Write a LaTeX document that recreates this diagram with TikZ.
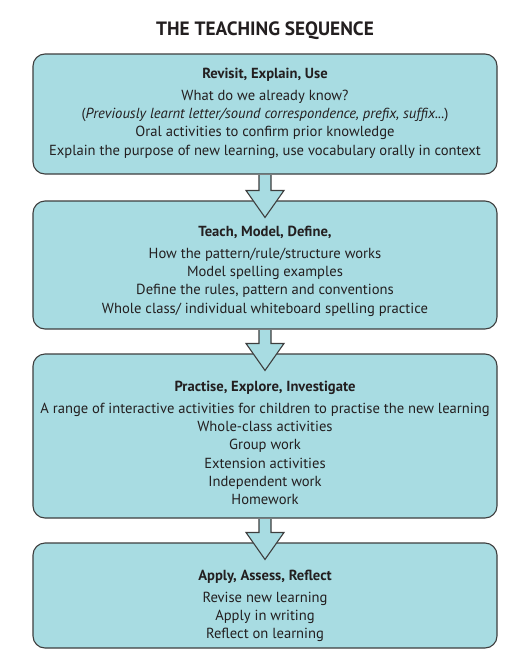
\documentclass[tikz,border=0pt]{standalone}
\usepackage{fontspec}
\setmainfont{PT Sans}
\usetikzlibrary{positioning,calc}
\definecolor{boxfill}{RGB}{168,220,226}
\definecolor{boxline}{RGB}{62,62,62}
\definecolor{inkcolor}{RGB}{35,31,32}

\tikzset{
  stagebox/.style={draw=boxline, line width=1.1pt, fill=boxfill,
    rounded corners=12pt, minimum width=464pt, inner sep=0pt},
  stagetext/.style={anchor=north, align=center, text=inkcolor, inner sep=0pt,
    font=\fontsize{14.6}{18.3}\selectfont},
  flowarrow/.style={draw=boxline, line width=1.1pt, fill=boxfill, line join=miter}
}

\begin{document}
\begin{tikzpicture}[x=1pt,y=-1pt]
\useasboundingbox (0,0) rectangle (527,670);

% -------- Title --------
\node[anchor=base, inner sep=0pt, text=inkcolor, font=\bfseries\fontsize{19.3}{21}\selectfont]
  (title) at (265,35) {THE TEACHING SEQUENCE};

% -------- Stage boxes --------
\node[stagebox, minimum height=120pt] (revisit) at (265,114) {};
\node[stagebox, minimum height=128pt] (teach) at (265,265) {};
\node[stagebox, minimum height=164pt] (practise) at (265,436) {};
\node[stagebox, minimum height=105pt] (apply) at (265,595.5) {};

% -------- Block arrows between the stages --------
\foreach \from/\to in {revisit/teach, teach/practise, practise/apply}
  \path[flowarrow]
    ([xshift=-6pt,yshift=-0.6pt]\from.south) -- ([xshift=-6pt,yshift=10pt]\to.north)
    -- ([xshift=-19pt,yshift=10pt]\to.north) -- ([yshift=-17pt]\to.north)
    -- ([xshift=19pt,yshift=10pt]\to.north) -- ([xshift=6pt,yshift=10pt]\to.north)
    -- ([xshift=6pt,yshift=-0.6pt]\from.south);

% -------- Stage texts --------
\node[stagetext] (revisit-txt) at ([yshift=-14pt]revisit.north)
{\textbf{Revisit, Explain, Use}\\[4pt]
 What do we already know?\\
 (\textit{Previously learnt letter/sound correspondence, prefix, suffix...})\\
 Oral activities to confirm prior knowledge\\
 Explain the purpose of new learning, use vocabulary orally in context};

\node[stagetext] (teach-txt) at ([yshift=-25pt]teach.north)
{\textbf{Teach, Model, Define,}\\[4pt]
 How the pattern/rule/structure works\\
 Model spelling examples\\
 Define the rules, pattern and conventions\\
 Whole class/ individual whiteboard spelling practice};

\node[stagetext] (practise-txt) at ([yshift=-27pt]practise.north)
{\textbf{Practise, Explore, Investigate}\\[4pt]
 A range of interactive activities for children to practise the new learning\\
 Whole-class activities\\
 Group work\\
 Extension activities\\
 Independent work\\
 Homework};

\node[stagetext] (apply-txt) at ([yshift=-27pt]apply.north)
{\textbf{Apply, Assess, Reflect}\\[4pt]
 Revise new learning\\
 Apply in writing\\
 Reflect on learning};

\end{tikzpicture}
\end{document}
